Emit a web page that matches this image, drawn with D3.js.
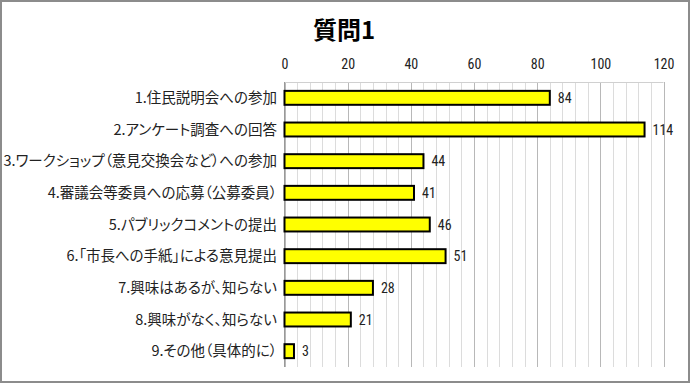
<!DOCTYPE html>
<html><head><meta charset="utf-8">
<script src="https://cdn.jsdelivr.net/npm/d3@7"></script>
<style>body{margin:0;background:#fff}svg{display:block}.cat{font-feature-settings:"palt"}</style>
</head><body>
<script>
const categories = ["1.住民説明会への参加","2.アンケート調査への回答","3.ワークショップ（意見交換会など）への参加","4.審議会等委員への応募（公募委員）","5.パブリックコメントの提出","6.「市長への手紙」による意見提出","7.興味はあるが、知らない","8.興味がなく、知らない","9.その他（具体的に）"];
const values = [84,114,44,41,46,51,28,21,3];
const majorTicks = [0,20,40,60,80,100,120];
const title = "質問1";

const W=690,H=383;
const svg=d3.select("body").append("svg").attr("width",W).attr("height",H);
svg.append("rect").attr("x",1).attr("y",1).attr("width",W-2).attr("height",H-2).attr("fill","#fff").attr("stroke","#8c8c8c").attr("stroke-width",2);

const font="'Noto Sans CJK JP','Noto Sans',sans-serif";
const numFont="'Liberation Sans Narrow','Roboto Condensed','Liberation Sans',sans-serif";
const x=d3.scaleLinear().domain([0,120]).range([284.5,663.5]);
const y=d3.scaleBand().domain(categories).range([82,367]).paddingInner(0.56).paddingOuter(0.28);

// minor grid
const minor=d3.range(0,121,4);
svg.append("g").selectAll("line").data(minor).join("line")
  .attr("x1",d=>Math.round(x(d))+0.5).attr("x2",d=>Math.round(x(d))+0.5)
  .attr("y1",82).attr("y2",367)
  .attr("stroke",d=>d%20===0?"#b8b8b8":"#dcdcdc").attr("stroke-width",1);
svg.append("line").attr("x1",x(0)).attr("x2",x(120)).attr("y1",82.5).attr("y2",82.5).attr("stroke","#d0d0d0");

// top axis
const ax=svg.append("g").attr("transform","translate(0,82)")
  .call(d3.axisTop(x).tickValues(majorTicks).tickSize(0).tickPadding(13));
ax.select(".domain").remove();
ax.selectAll("text").attr("font-family",numFont).attr("font-size",14).attr("fill","#222");

// left axis line
svg.append("line").attr("x1",284.5).attr("x2",284.5).attr("y1",82).attr("y2",367).attr("stroke","#999");

// bars
svg.append("g").selectAll("rect").data(values).join("rect")
  .attr("x",x(0)).attr("y",(d,i)=>y(categories[i]))
  .attr("width",d=>x(d)-x(0)).attr("height",y.bandwidth())
  .attr("fill","#ffff00").attr("stroke","#000").attr("stroke-width",2);

// value labels
svg.append("g").selectAll("text").data(values).join("text")
  .attr("x",d=>x(d)+8).attr("y",(d,i)=>y(categories[i])+y.bandwidth()/2)
  .attr("dy","0.36em").attr("font-family",numFont).attr("font-size",14).attr("fill","#222")
  .text(d=>d);

// category labels
svg.append("g").selectAll("text").data(categories).join("text")
  .attr("class","cat")
  .attr("x",277).attr("y",d=>y(d)+y.bandwidth()/2).attr("dy","0.36em")
  .attr("text-anchor","end").attr("font-family",font).attr("font-size",14.5).attr("fill","#222")
  .text(d=>d);

svg.append("text").attr("x",344).attr("y",39).attr("text-anchor","middle")
  .attr("font-family",font).attr("font-size",24).attr("font-weight","bold").attr("fill","#000").text(title);
</script>
</body></html>
